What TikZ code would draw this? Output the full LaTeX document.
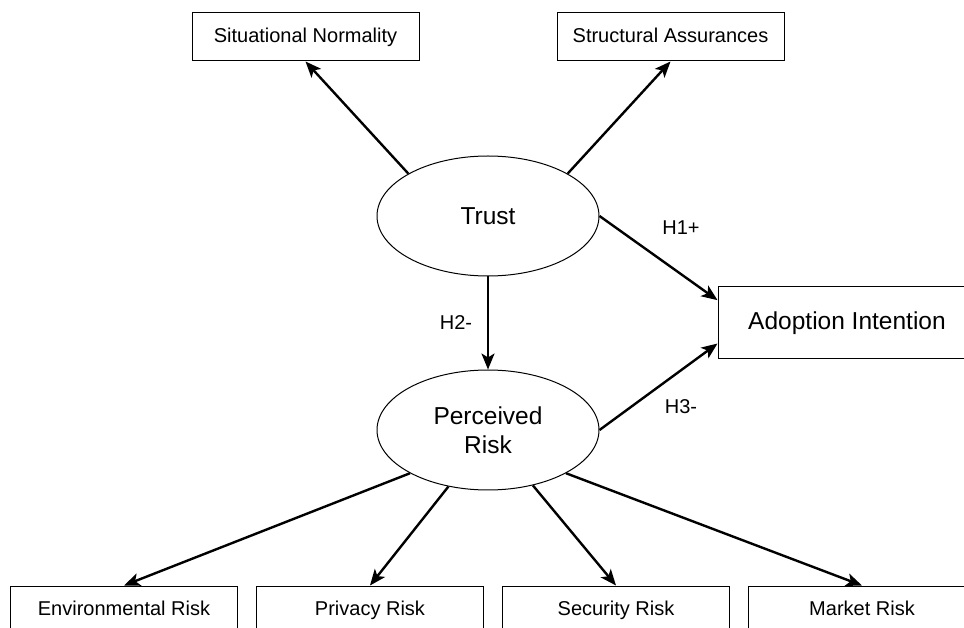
\documentclass[tikz,border=0pt]{standalone}
\usepackage{fontspec}
\setmainfont{Liberation Sans}
\usetikzlibrary{arrows.meta,shapes.geometric}

\begin{document}
\begin{tikzpicture}[x=1pt,y=1pt,
    box/.style={draw,line width=1pt,minimum width=227pt,minimum height=48pt,inner sep=0pt,text height=14.5pt,text depth=4pt,font=\fontsize{20}{24}\selectfont},
    bigbox/.style={draw,line width=1pt,minimum width=258pt,minimum height=72pt,inner sep=0pt,text height=17.5pt,text depth=5pt,font=\fontsize{24.5}{29}\selectfont},
    latent/.style={ellipse,draw,line width=1pt,minimum width=222pt,minimum height=120pt,inner sep=0pt,align=center,font=\fontsize{24.5}{29}\selectfont},
    link/.style={-{Stealth[length=16pt,width=13pt,inset=4pt]},line width=2.4pt},
    hyp/.style={font=\fontsize{20}{24}\selectfont}]
    \useasboundingbox (0,0) rectangle (964,627);
    % antecedents of trust
    \node[box] (sn) at (305.5,590) {Situational Normality};
    \node[box] (sa) at (670.5,590) {Structural Assurances};
    % latent constructs
    \node[latent] (trust) at (488,411) {Trust};
    \node[latent] (risk) at (488,197) {Perceived\\Risk};
    \node[bigbox] (adopt) at (847,304) {Adoption Intention};
    % risk facets
    \node[box] (env) at (124,17) {Environmental Risk};
    \node[box] (priv) at (370,17) {Privacy Risk};
    \node[box] (sec) at (616,17) {Security Risk};
    \node[box] (mkt) at (862,17) {Market Risk};
    % paths
    \draw[link] (trust.152) -- (sn.south);
    \draw[link] (trust.28) -- (sa.south);
    \draw[link] (trust.east) -- (adopt.170);
    \draw[link] (trust.south) -- (risk.north);
    \draw[link] (risk.east) -- (adopt.189);
    \draw[link] (risk.209) -- (env.north);
    \draw[link] (risk.235) -- (priv.north);
    \draw[link] (risk.309) -- (sec.north);
    \draw[link] (risk.331) -- (mkt.north);
    % hypotheses
    \node[hyp] (h1) at (681,399) {H1+};
    \node[hyp] (h2) at (456,304) {H2-};
    \node[hyp] (h3) at (681,220) {H3-};
\end{tikzpicture}
\end{document}
